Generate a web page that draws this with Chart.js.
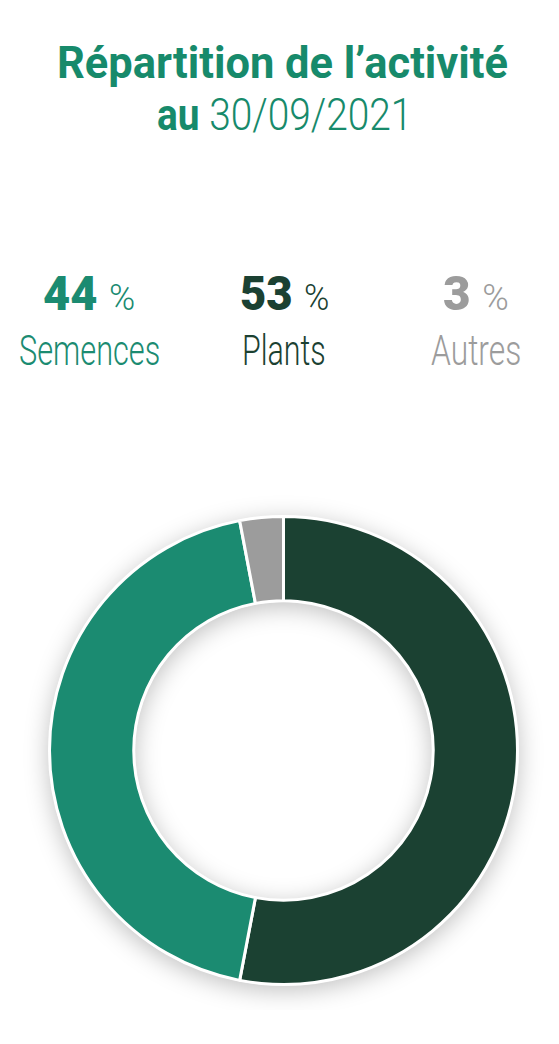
<!DOCTYPE html>
<html>
<head>
<meta charset="utf-8">
<script src="https://cdn.jsdelivr.net/npm/chart.js@4"></script>
<style>
  html,body{margin:0;padding:0;background:#fff;width:559px;height:1044px;overflow:hidden;}
  body{position:relative;font-family:Roboto,"DejaVu Sans",sans-serif;}
  .fit{position:absolute;left:0;top:0;white-space:nowrap;line-height:1;transform-origin:0 0;}
  #chartBox{position:absolute;left:0;top:490px;width:559px;height:520px;}
</style>
</head>
<body>
<div id="title1" class="fit" style="font-size:45px;font-weight:700;color:#178a6b;">Répartition de l’activité</div>
<div id="title2" class="fit" style="font-size:44px;color:#178a6b;"><span style="font-weight:700">au</span> <span style="font-weight:300">30/09/2021</span></div>
<div id="legend"></div>
<div id="chartBox"><canvas id="c"></canvas></div>
<script>
// ---- data ----
const categories = ["Plants", "Semences", "Autres"];
const values = [53, 44, 3];
const colors = ["#1b4132", "#1b8b71", "#9c9c9c"];
// legend order as shown on the page
const legendOrder = ["Semences", "Plants", "Autres"];

// ---- layout helpers ----
function place(el, cx, baseline, w){
  const fs = parseFloat(getComputedStyle(el).fontSize);
  const natural = el.offsetWidth; // not affected by transforms
  const sx = w / natural;
  el.style.transform = 'scaleX(' + sx + ')';
  el.style.left = (cx - w/2) + 'px';
  el.style.top = (baseline - 0.842*fs) + 'px';
}

const legendPos = {
  "Semences": {cx:89,  numW:92, labW:141},
  "Plants":   {cx:284, numW:89, labW:84},
  "Autres":   {cx:476, numW:66, labW:90}
};
const legend = document.getElementById('legend');
const legendEls = [];
legendOrder.forEach(name=>{
  const i = categories.indexOf(name);
  const n = document.createElement('div');
  n.className='fit';
  n.style.color = colors[i];
  n.style.fontSize='49px';
  n.innerHTML = '<span style="font-weight:900">' + values[i] + '</span> <span style="font-weight:300;font-size:37px">%</span>';
  const l = document.createElement('div');
  l.className='fit';
  l.style.color = colors[i];
  l.style.fontSize='42px';
  l.style.fontWeight='300';
  l.textContent = name;
  legend.appendChild(n); legend.appendChild(l);
  legendEls.push([name,n,l]);
});

function layoutText(){
  place(document.getElementById('title1'), 282.5, 77.5, 451);
  place(document.getElementById('title2'), 284.5, 130.5, 255);
  legendEls.forEach(([name,n,l])=>{
    const p = legendPos[name];
    place(n, p.cx, 310, p.numW);
    place(l, p.cx, 365, p.labW);
  });
}
layoutText();
if (document.fonts && document.fonts.ready) document.fonts.ready.then(layoutText);

// ---- ring shadow plugin ----
const ringShadow = {
  id:'ringShadow',
  beforeDatasetsDraw(chart){
    const meta = chart.getDatasetMeta(0);
    const a = meta.data[0];
    if(!a) return;
    const {x,y,outerRadius,innerRadius} = a.getProps(['x','y','outerRadius','innerRadius'], true);
    const ctx = chart.ctx;
    ctx.save();
    ctx.shadowColor='rgba(0,0,0,0.25)';
    ctx.shadowBlur=24;
    ctx.shadowOffsetY=5;
    ctx.fillStyle='#ffffff';
    ctx.beginPath();
    ctx.arc(x,y,outerRadius+1,0,Math.PI*2);
    ctx.arc(x,y,Math.max(innerRadius-1,0),0,Math.PI*2,true);
    ctx.closePath();
    ctx.fill();
    ctx.restore();
  }
};

new Chart(document.getElementById('c'), {
  type:'doughnut',
  data:{
    labels:categories,
    datasets:[{
      data:values,
      backgroundColor:colors,
      borderColor:'#ffffff',
      borderWidth:3,
      hoverOffset:0
    }]
  },
  options:{
    responsive:true,
    maintainAspectRatio:false,
    animation:false,
    cutout:'64%',
    rotation:0,
    layout:{padding:{left:8,right:0,top:25,bottom:24}},
    plugins:{legend:{display:false},tooltip:{enabled:false},title:{display:false}}
  },
  plugins:[ringShadow]
});
</script>
</body>
</html>
